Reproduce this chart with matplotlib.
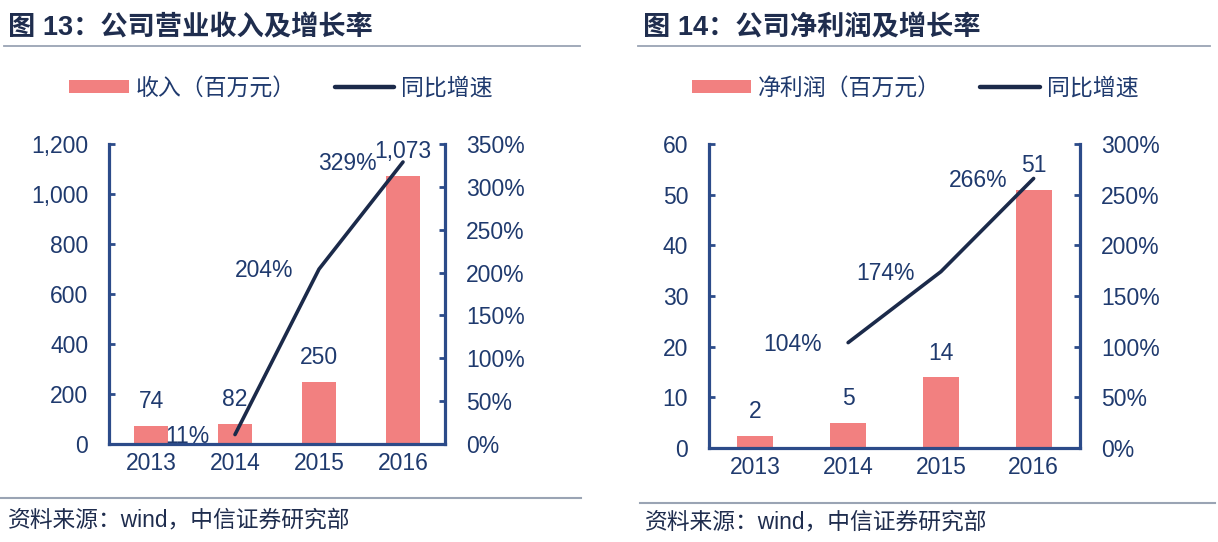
import numpy as np
import matplotlib
matplotlib.use('Agg')
import matplotlib.pyplot as plt
from matplotlib.lines import Line2D
from matplotlib.patches import Patch
from matplotlib.ticker import FuncFormatter, MultipleLocator

plt.rcParams['font.family'] = ['Liberation Sans', 'Noto Sans CJK SC', 'DejaVu Sans']

years = ['2013', '2014', '2015', '2016']

# 图13 营业收入（百万元）及同比增速（%）
revenue = [74, 82, 250, 1073]
revenue_growth = [np.nan, 11, 204, 329]

# 图14 净利润（百万元）及同比增速（%）
profit = [2.4, 5, 14, 51]
profit_growth = [np.nan, 104, 174, 266]

BAR = '#F28080'
LINE = '#1B2A4A'
SPINE = '#2C4B89'
TEXT = '#1F3A6E'
TITLE = '#1F2D4E'
RULE = '#9AA4B4'
FS = 16.5
W, H = 1218, 542


def fx(px):
    return px / W


def fy(py):
    return 1 - py / H


def draw_panel(fig, rect, values, growth, ymax, ystep, gmax, gstep, bar_width, bar_name):
    ax = fig.add_axes(rect)
    x = np.arange(len(years))
    ax.bar(x, values, width=bar_width, color=BAR, zorder=2)
    ax.set_xlim(-0.5, len(years) - 0.5)
    ax.set_ylim(0, ymax)
    ax.yaxis.set_major_locator(MultipleLocator(ystep))
    ax.yaxis.set_major_formatter(FuncFormatter(lambda v, p: f'{v:,.0f}'))
    ax.set_xticks(x)
    ax.set_xticklabels(years)

    for i, v in enumerate(values):
        ax.annotate(f'{v:,.0f}', xy=(i, v), xytext=(0, 12.6), textcoords='offset points',
                    ha='center', va='baseline', fontsize=FS, color=TEXT)

    ax2 = ax.twinx()
    ax2.plot(x, growth, color=LINE, linewidth=2.6, solid_capstyle='round', zorder=3)
    ax2.set_ylim(0, gmax)
    ax2.yaxis.set_major_locator(MultipleLocator(gstep))
    ax2.yaxis.set_major_formatter(FuncFormatter(lambda v, p: f'{v:.0f}%'))
    for i, g in enumerate(growth):
        if np.isnan(g):
            continue
        ax2.annotate(f'{g:.0f}%', xy=(i, g), xytext=(-18.7, -6), textcoords='offset points',
                     ha='right', va='baseline', fontsize=FS, color=TEXT)

    # spines: left, bottom on ax; right on ax2
    for a in (ax, ax2):
        for s in a.spines.values():
            s.set_color(SPINE)
            s.set_linewidth(2.3)
        a.spines['top'].set_visible(False)
    ax.spines['right'].set_visible(False)
    ax2.spines['left'].set_visible(False)
    ax2.spines['bottom'].set_visible(False)

    ax.tick_params(axis='y', direction='in', length=4.3, width=2, color=SPINE,
                   labelsize=FS, labelcolor=TEXT, pad=15)
    ax.tick_params(axis='x', length=0, labelsize=FS, labelcolor=TEXT, pad=6)
    ax2.tick_params(axis='y', direction='in', length=4.3, width=2, color=SPINE,
                    labelsize=FS, labelcolor=TEXT, pad=15)

    handles = [Patch(facecolor=BAR, edgecolor='none', label=bar_name),
               Line2D([0], [0], color=LINE, linewidth=3.2, solid_capstyle='round', label='同比增速')]
    return ax, handles


fig = plt.figure(figsize=(W / 100, H / 100), dpi=100)

# left panel
ax_l, h_l = draw_panel(fig, [fx(109), fy(444), fx(336), 300 / H],
                       revenue, revenue_growth, 1200, 200, 350, 50, 0.40, '收入（百万元）')
fig.legend(handles=h_l, loc='center', bbox_to_anchor=(fx(281), fy(88)), ncol=2, frameon=False,
           fontsize=FS, handlelength=2.6, handleheight=0.5, handletextpad=0.3,
           columnspacing=1.7, labelcolor=TEXT)

# right panel
ax_r, h_r = draw_panel(fig, [fx(709), fy(448), fx(371), 304 / H],
                       profit, profit_growth, 60, 10, 300, 50, 0.39, '净利润（百万元）')
fig.legend(handles=h_r, loc='center', bbox_to_anchor=(fx(915), fy(88)), ncol=2, frameon=False,
           fontsize=FS, handlelength=2.6, handleheight=0.5, handletextpad=0.3,
           columnspacing=1.7, labelcolor=TEXT)

# titles and rules
fig.text(fx(8), fy(28), '图 13：公司营业收入及增长率', fontsize=19.6, fontweight='bold',
         color=TITLE, va='center', ha='left')
fig.text(fx(643), fy(28), '图 14：公司净利润及增长率', fontsize=19.6, fontweight='bold',
         color=TITLE, va='center', ha='left')
fig.add_artist(Line2D([fx(4), fx(580)], [fy(46), fy(46)], color=RULE, linewidth=1.3))
fig.add_artist(Line2D([fx(638), fx(1210)], [fy(46), fy(46)], color=RULE, linewidth=1.3))

# source notes
fig.add_artist(Line2D([fx(0), fx(581)], [fy(498), fy(498)], color=RULE, linewidth=1.5))
fig.add_artist(Line2D([fx(640), fx(1215)], [fy(503), fy(503)], color=RULE, linewidth=1.5))
fig.text(fx(8), fy(520), '资料来源：wind，中信证券研究部', fontsize=16.4, color=TITLE,
         va='center', ha='left')
fig.text(fx(645), fy(522), '资料来源：wind，中信证券研究部', fontsize=16.4, color=TITLE,
         va='center', ha='left')

fig.savefig('out.png', dpi=100)
